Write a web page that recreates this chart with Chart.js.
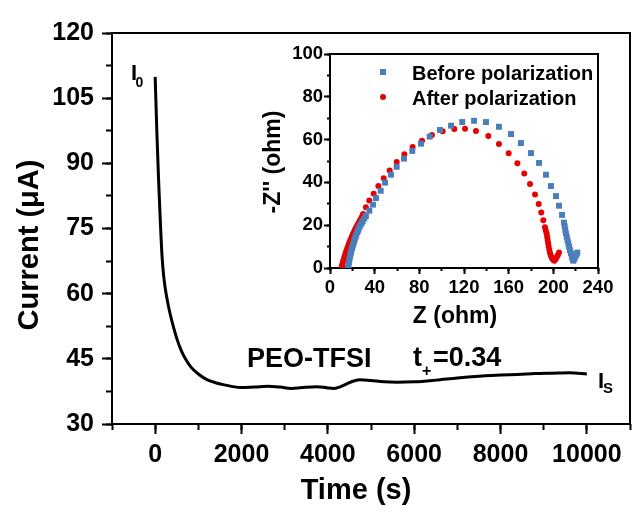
<!DOCTYPE html>
<html><head><meta charset="utf-8">
<script src="https://cdn.jsdelivr.net/npm/chart.js@4/dist/chart.umd.min.js"></script>
<style>
html,body{margin:0;padding:0;background:#fff;}
#wrap{position:relative;width:637px;height:518px;background:#fff;}
#main{position:absolute;left:0;top:0;width:637px;height:518px;}
#inset{position:absolute;left:240px;top:30px;width:380px;height:310px;}
</style></head><body>
<div id="wrap">
<canvas id="main" width="637" height="518"></canvas>
<canvas id="inset" width="380" height="310"></canvas>
</div>
<script>
// ---- main chart data: current vs time ----
const timeS = [0,40,80,120,160,200,250,300,350,400,500,600,700,830,1000,1200,1400,1600,1800,2000,2300,2600,2900,3150,3400,3750,4000,4150,4300,4450,4600,4750,5000,5300,5600,6000,6500,7000,7500,8000,8400,8800,9200,9600,10000];
const currentUA = [109.9,97,86,76.5,68.5,63.8,60.2,57.5,55.2,53.2,49.7,47,45,43.1,41.5,40.2,39.5,39,38.6,38.4,38.5,38.7,38.5,38.2,38.4,38.6,38.3,38.2,38.6,39.3,39.9,40.2,40,39.7,39.6,39.7,40.1,40.6,41,41.3,41.4,41.6,41.7,41.8,41.5];
const mainXTicks = [0,2000,4000,6000,8000,10000];
const mainYTicks = [30,45,60,75,90,105,120];

// ---- inset data: Nyquist plots ----
const beforeZ = [16.2,16.5,16.9,17.3,17.8,18.3,18.8,19.4,20.0,20.7,21.4,22.1,22.8,23.6,24.5,25.4,26.3,27.3,28.3,29.3,30.7,32.2,35.2,38.5,41.2,45.4,49.3,54.6,59.7,66.3,73.7,81.5,89.3,98.5,108.4,118.4,129.0,139.7,151.3,162.1,171.0,180.0,187.2,193.4,197.9,202.4,205.1,207.8,209.5,210.2,210.7,211.3,212.0,212.7,213.4,214.1,214.9,215.8,216.7,217.3,217.9,218.8,219.7,220.6,221.5];
const beforeZi = [0,1.3,2.6,3.8,5.1,6.3,7.4,8.7,9.8,11.0,12.1,13.3,14.4,15.6,16.8,17.9,19.0,20.1,21.0,21.9,23.1,24.3,26.8,29.6,32.7,36.1,39.9,43.6,47.3,51.1,54.7,58.1,61.4,64.5,66.5,68.2,68.8,68.2,66.0,62.6,58.4,53.7,49.1,43.6,38.3,33.6,29.1,24.8,21.2,19.5,17.8,16.2,14.6,13.0,11.5,10.0,8.4,6.8,5.3,4.2,3.4,4.2,5.3,6.2,7.2];
const afterZ = [10.4,10.7,11.0,11.5,12.0,12.6,13.2,13.8,14.5,15.2,15.9,16.6,17.3,18.0,18.8,19.6,20.4,21.2,22.0,22.8,23.7,24.6,25.6,26.6,27.6,28.6,29.6,32.2,35.2,39.1,43.3,48.1,53.4,59.7,66.6,74.0,82.4,91.3,100.9,111.3,120.9,130.7,141.8,151.3,160.0,167.8,174.0,179.1,183.6,186.9,189.2,191.0,192.5,193.3,194.0,194.5,194.9,195.4,195.8,196.4,197.0,197.8,198.8,199.8,200.9,202.0,203.0,204.1,205.1];
const afterZi = [0,0.8,1.6,2.6,3.6,4.6,5.6,6.7,7.8,8.8,9.8,10.8,11.8,12.7,13.7,14.7,15.6,16.5,17.4,18.3,19.2,20.1,21.0,22.0,23.0,24.0,25.2,28.4,31.5,34.7,38.3,41.9,45.6,49.5,53.1,56.5,59.5,62.1,63.9,65.0,65.1,64.0,61.7,57.9,53.6,48.9,44.2,39.3,34.4,29.9,25.9,22.3,19.0,17.4,16.0,14.5,13.1,11.6,10.0,8.5,7.0,5.7,4.5,3.8,3.4,4.1,5.0,6.1,7.2];
const insetXTicks = [0,40,80,120,160,200,240];
const insetYTicks = [0,20,40,60,80,100];
const seriesNames = ['Before polarization','After polarization'];

const FONT = "'Liberation Sans', Arial, sans-serif";
Chart.defaults.font.family = FONT;
Chart.defaults.color = '#000';

const BLUE = '#4a7ebb';
const RED = '#e60000';

const fixW = w => s => { s.width = w; };
const fixH = h => s => { s.height = h; };
const setTicks = arr => s => { s.ticks = arr.map(v => ({value: v})); };
const plain = v => String(v);

const framePlugin = {
  id: 'frame',
  beforeDatasetsDraw(chart, args, opts) {
    const a = chart.chartArea, ctx = chart.ctx;
    ctx.save();
    ctx.strokeStyle = '#000';
    ctx.lineWidth = opts.lw || 2;
    ctx.strokeRect(a.left, a.top, a.right - a.left, a.bottom - a.top);
    ctx.restore();
  }
};

function txt(ctx, s, x, y, size, align, base, rot) {
  ctx.save();
  ctx.font = 'bold ' + size + 'px ' + FONT;
  ctx.fillStyle = '#000';
  ctx.textAlign = align || 'left';
  ctx.textBaseline = base || 'alphabetic';
  ctx.translate(x, y);
  if (rot) ctx.rotate(rot);
  ctx.fillText(s, 0, 0);
  ctx.restore();
}

const mainText = {
  id: 'mainText',
  afterDraw(chart) {
    const ctx = chart.ctx;
    txt(ctx, 'Current (\u03bcA)', 30, 245, 29, 'center', 'middle', -Math.PI / 2);
    txt(ctx, 'Time (s)', 356, 491, 29, 'center', 'middle');
    txt(ctx, 'I', 131, 80, 22);
    txt(ctx, '0', 135.5, 87, 14);
    txt(ctx, 'I', 598, 388, 22);
    txt(ctx, 'S', 603, 393, 15);
    txt(ctx, 'PEO-TFSI', 247, 367, 27);
    txt(ctx, 't', 413, 366, 27);
    txt(ctx, '+', 422, 376, 16);
    txt(ctx, '=0.34', 433, 366, 27);
  }
};

new Chart(document.getElementById('main'), {
  type: 'line',
  data: {
    datasets: [{
      data: timeS.map((t, i) => ({x: t, y: currentUA[i]})),
      borderColor: '#000', borderWidth: 3, pointRadius: 0,
      cubicInterpolationMode: 'monotone', fill: false
    }]
  },
  options: {
    responsive: false, animation: false,
    layout: {padding: {top: 33, right: 7, left: 0, bottom: 0}},
    plugins: {legend: {display: false}, tooltip: {enabled: false}, frame: {lw: 2}},
    scales: {
      x: {type: 'linear', position: 'bottom', min: -1000, max: 11000, weight: 1,
        afterBuildTicks: setTicks(mainXTicks),
        ticks: {autoSkip: false, maxRotation: 0, padding: 6, font: {size: 25, weight: 'bold'}, callback: plain},
        grid: {drawOnChartArea: false, drawTicks: true, tickLength: 10, tickWidth: 2, tickColor: '#000'},
        border: {display: false}, afterFit: fixH(94)},
      xMinor: {type: 'linear', position: 'bottom', min: -1000, max: 11000, weight: 0,
        ticks: {display: false, stepSize: 1000, autoSkip: false},
        grid: {drawOnChartArea: false, tickLength: 6, tickWidth: 2, tickColor: '#000'},
        border: {display: false}, afterFit: fixH(0)},
      y: {type: 'linear', position: 'left', min: 30, max: 120, weight: 1,
        afterBuildTicks: setTicks(mainYTicks),
        ticks: {autoSkip: false, padding: 8, font: {size: 25, weight: 'bold'}, callback: plain},
        grid: {drawOnChartArea: false, drawTicks: true, tickLength: 10, tickWidth: 2, tickColor: '#000'},
        border: {display: false}, afterFit: fixW(112)},
      yMinor: {type: 'linear', position: 'left', min: 30, max: 120, weight: 0,
        ticks: {display: false, stepSize: 7.5, autoSkip: false},
        grid: {drawOnChartArea: false, tickLength: 6, tickWidth: 2, tickColor: '#000'},
        border: {display: false}, afterFit: fixW(0)}
    }
  },
  plugins: [framePlugin, mainText]
});

const insetText = {
  id: 'insetText',
  afterDraw(chart) {
    const ctx = chart.ctx;
    txt(ctx, "-Z'' (ohm)", 34, 132, 23, 'center', 'middle', -Math.PI / 2);
    txt(ctx, 'Z (ohm)', 215, 287, 23, 'center', 'middle');
    // legend
    const ds = chart.data.datasets;
    ctx.save();
    ctx.fillStyle = ds[0].backgroundColor;
    ctx.fillRect(143 - 3, 42 - 3, 6, 6);
    ctx.fillStyle = ds[1].backgroundColor;
    ctx.beginPath(); ctx.arc(143, 67, 3, 0, Math.PI * 2); ctx.fill();
    ctx.restore();
    txt(ctx, ds[0].label, 172, 50, 20);
    txt(ctx, ds[1].label, 172, 75, 20);
  }
};

new Chart(document.getElementById('inset'), {
  type: 'scatter',
  data: {
    datasets: [
      {label: seriesNames[0], data: beforeZ.map((z, i) => ({x: z, y: beforeZi[i]})),
        pointStyle: 'rect', pointRadius: 4.2, backgroundColor: BLUE, borderWidth: 0, showLine: false},
      {label: seriesNames[1], data: afterZ.map((z, i) => ({x: z, y: afterZi[i]})),
        pointStyle: 'circle', pointRadius: 3, backgroundColor: RED, borderWidth: 0, showLine: false}
    ]
  },
  options: {
    responsive: false, animation: false,
    layout: {padding: {top: 24, right: 22, left: 0, bottom: 0}},
    plugins: {legend: {display: false}, tooltip: {enabled: false}, frame: {lw: 2}},
    scales: {
      x: {type: 'linear', position: 'bottom', min: 0, max: 240, weight: 1,
        afterBuildTicks: setTicks(insetXTicks),
        ticks: {autoSkip: false, maxRotation: 0, padding: 3, font: {size: 18.5, weight: 'bold'}, callback: plain},
        grid: {drawOnChartArea: false, tickLength: 6, tickWidth: 2, tickColor: '#000'},
        border: {display: false}, afterFit: fixH(72)},
      xMinor: {type: 'linear', position: 'bottom', min: 0, max: 240, weight: 0,
        ticks: {display: false, stepSize: 20, autoSkip: false},
        grid: {drawOnChartArea: false, tickLength: 3, tickWidth: 2, tickColor: '#000'},
        border: {display: false}, afterFit: fixH(0)},
      y: {type: 'linear', position: 'left', min: 0, max: 100, weight: 1,
        afterBuildTicks: setTicks(insetYTicks),
        ticks: {autoSkip: false, padding: 1, font: {size: 18.5, weight: 'bold'}, callback: plain},
        grid: {drawOnChartArea: false, tickLength: 6, tickWidth: 2, tickColor: '#000'},
        border: {display: false}, afterFit: fixW(90)},
      yMinor: {type: 'linear', position: 'left', min: 0, max: 100, weight: 0,
        ticks: {display: false, stepSize: 10, autoSkip: false},
        grid: {drawOnChartArea: false, tickLength: 3, tickWidth: 2, tickColor: '#000'},
        border: {display: false}, afterFit: fixW(0)}
    }
  },
  plugins: [framePlugin, insetText]
});
</script>
</body></html>
